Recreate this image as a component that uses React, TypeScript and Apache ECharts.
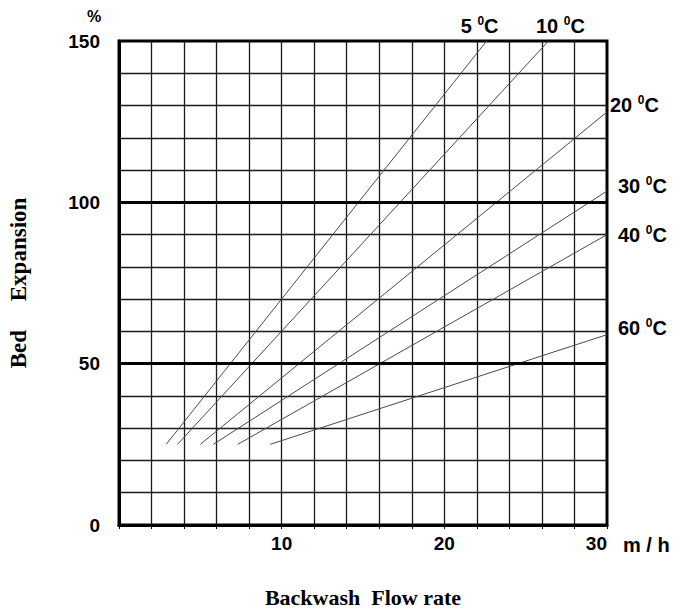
import React, { useEffect, useRef } from "react";
import * as echarts from "echarts";

// Temperature curves (°C), each a straight line from start to end point
const temps = ["5", "10", "20", "30", "40", "60"];
const startFlow = [2.9, 3.6, 5.0, 5.8, 7.3, 9.3];
const startExp = [25, 25, 25, 25, 25, 25];
const endFlow = [22.6, 26.4, 30, 30, 30, 30];
const endExp = [150, 150, 128, 103.5, 90, 59];

// Axis ticks
const xTickLabels = [10, 20, 30];
const yTickLabels = [0, 50, 100, 150];
const heavyLines = [50, 100];

// label offsets (px) relative to the end of each line
const labelOffsets: [number, number, string][] = [
  [-7, -15, "center"],
  [12, -15, "center"],
  [3, -7, "left"],
  [11, -5, "left"],
  [11, 0, "left"],
  [11, -7, "left"],
];

const SANS = "Liberation Sans";
const SERIF = "Liberation Serif";

export default function App() {
  const ref = useRef<HTMLDivElement>(null);
  useEffect(() => {
    if (!ref.current) return;
    const chart = echarts.init(ref.current, null, { renderer: "svg" });
    const series: any[] = temps.map((t, i) => ({
      name: t + " °C",
      type: "line",
      showSymbol: false,
      symbol: "none",
      data: [
        [startFlow[i], startExp[i]],
        [endFlow[i], endExp[i]],
      ],
      lineStyle: { color: "#4a4a4a", width: 1 },
      z: 3,
    }));
    series[0].markLine = {
      silent: true,
      symbol: ["none", "none"],
      label: { show: false },
      lineStyle: { color: "#000", width: 3, type: "solid" },
      data: heavyLines.map((v) => ({ yAxis: v })),
      z: 4,
    };
    const option: any = {
      animation: false,
      grid: {
        left: 119,
        right: 73,
        top: 41,
        bottom: 86,
        outerBoundsMode: "none",
        containLabel: false,
        show: true,
        borderColor: "#000",
        borderWidth: 3,
        backgroundColor: "#fff",
      },
      xAxis: {
        type: "value",
        min: 0,
        max: 30,
        interval: 2,
        name: "Backwash  Flow rate",
        nameLocation: "middle",
        nameGap: 61,
        nameTextStyle: {
          fontFamily: SERIF,
          fontWeight: "bold",
          fontSize: 22,
          color: "#000",
        },
        axisLine: { show: true, lineStyle: { color: "#000", width: 3 } },
        axisTick: { show: true, length: 4, lineStyle: { color: "#000", width: 1 } },
        axisLabel: {
          margin: 9,
          fontFamily: SANS,
          fontWeight: "bold",
          fontSize: 19,
          color: "#000",
          alignMaxLabel: "right",
          formatter: (v: number) => (xTickLabels.includes(v) ? String(v) : ""),
        },
        splitLine: {
          show: true,
          showMinLine: false,
          showMaxLine: false,
          lineStyle: { color: "#1a1a1a", width: 1.3 },
        },
      },
      yAxis: {
        type: "value",
        min: 0,
        max: 150,
        interval: 10,
        name: "Bed     Expansion",
        nameLocation: "middle",
        nameRotate: 90,
        nameGap: 89,
        nameTextStyle: {
          fontFamily: SERIF,
          fontWeight: "bold",
          fontSize: 23,
          color: "#000",
        },
        axisLine: { show: true, lineStyle: { color: "#000", width: 3 } },
        axisTick: { show: false },
        axisLabel: {
          margin: 19,
          fontFamily: SANS,
          fontWeight: "bold",
          fontSize: 19,
          color: "#000",
          formatter: (v: number) => (yTickLabels.includes(v) ? String(v) : ""),
        },
        splitLine: {
          show: true,
          showMinLine: false,
          showMaxLine: false,
          lineStyle: { color: "#1a1a1a", width: 1.3 },
        },
      },
      series,
    };
    chart.setOption(option);

    const graphics: any[] = [
      {
        type: "text",
        x: 94,
        y: 16,
        style: {
          text: "%",
          font: `bold 16px "${SANS}"`,
          fill: "#000",
          align: "center",
          verticalAlign: "middle",
        },
      },
      {
        type: "text",
        x: 623,
        y: 545,
        style: {
          text: "m / h",
          font: `bold 20px "${SANS}"`,
          fill: "#000",
          align: "left",
          verticalAlign: "middle",
        },
      },
    ];
    temps.forEach((t, i) => {
      const p = chart.convertToPixel({ xAxisIndex: 0, yAxisIndex: 0 }, [
        endFlow[i],
        endExp[i],
      ]) as number[];
      const [dx, dy, align] = labelOffsets[i];
      graphics.push({
        type: "text",
        x: p[0] + dx,
        y: p[1] + dy,
        z: 10,
        style: {
          text: `{n|${t} }{s|0}{n|C}`,
          align,
          verticalAlign: "middle",
          fill: "#000",
          rich: {
            n: {
              fontFamily: SANS,
              fontWeight: "bold",
              fontSize: 20,
              lineHeight: 22,
              fill: "#000",
            },
            s: {
              fontFamily: SANS,
              fontWeight: "bold",
              fontSize: 12,
              lineHeight: 13,
              verticalAlign: "top",
              fill: "#000",
            },
          },
        },
      });
    });
    chart.setOption({ graphic: graphics });
    return () => chart.dispose();
  }, []);
  return (
    <div
      ref={ref}
      style={{ position: "absolute", left: 0, top: 0, width: 680, height: 611 }}
    />
  );
}
